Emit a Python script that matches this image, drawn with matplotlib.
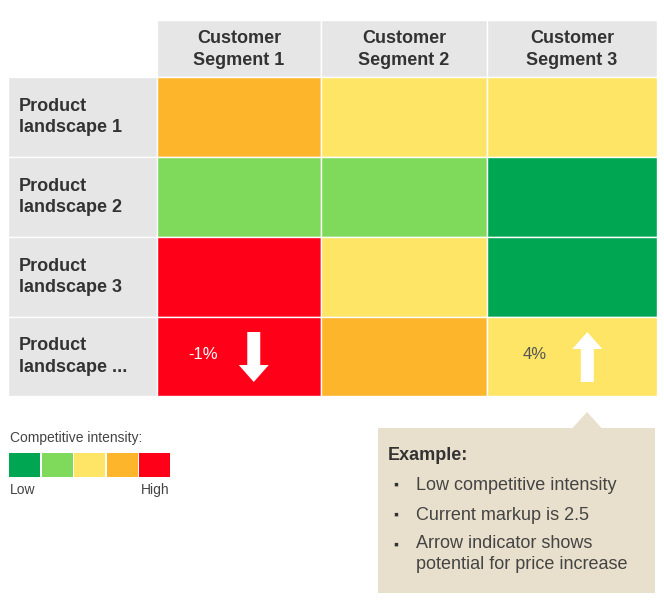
import matplotlib
matplotlib.use("Agg")
import matplotlib.pyplot as plt
from matplotlib.patches import Rectangle, Polygon

plt.rcParams['font.family'] = ['Liberation Sans', 'DejaVu Sans']

columns = ["Customer\nSegment 1", "Customer\nSegment 2", "Customer\nSegment 3"]
rows = ["Product\nlandscape 1", "Product\nlandscape 2", "Product\nlandscape 3", "Product\nlandscape ..."]
# competitive intensity level 1 (low) .. 5 (high)
intensity = [
    [4, 3, 3],
    [2, 2, 1],
    [5, 3, 1],
    [5, 4, 3],
]
level_colors = ["#00A651", "#7FD95A", "#FEE566", "#FDB62C", "#FF0019"]
# price change annotations: (row, col, text, direction)
annotations = [(3, 0, "-1%", "down"), (3, 2, "4%", "up")]
legend_title = "Competitive intensity:"
legend_low, legend_high = "Low", "High"
example_title = "Example:"
example_items = ["Low competitive intensity", "Current markup is 2.5",
                 "Arrow indicator shows\npotential for price increase"]

W, H = 664, 604
fig = plt.figure(figsize=(W / 100, H / 100), dpi=100)
ax = fig.add_axes([0, 0, 1, 1])
ax.set_xlim(0, W)
ax.set_ylim(H, 0)
ax.axis("off")

grey = "#E6E6E6"
txt = "#333333"
col_x = [157, 321, 487, 657]
row_y = [77, 157, 237, 317, 396]
head_top = 20
label_left = 8

# header
for j, name in enumerate(columns):
    ax.add_patch(Rectangle((col_x[j], head_top), col_x[j + 1] - col_x[j], row_y[0] - head_top,
                           facecolor=grey, edgecolor="white", lw=1))
    ax.text((col_x[j] + col_x[j + 1]) / 2, (head_top + row_y[0]) / 2 + 1, name, ha="center", va="center",
            fontsize=13, fontweight="bold", color=txt, linespacing=1.35)

# rows
for i, name in enumerate(rows):
    ax.add_patch(Rectangle((label_left, row_y[i]), col_x[0] - label_left, row_y[i + 1] - row_y[i],
                           facecolor=grey, edgecolor="white", lw=1))
    ax.text(label_left + 11, (row_y[i] + row_y[i + 1]) / 2, name, ha="left", va="center",
            fontsize=13, fontweight="bold", color=txt, linespacing=1.35)
    for j in range(len(columns)):
        ax.add_patch(Rectangle((col_x[j], row_y[i]), col_x[j + 1] - col_x[j], row_y[i + 1] - row_y[i],
                               facecolor=level_colors[intensity[i][j] - 1], edgecolor="white", lw=1))

# annotations with arrows
for (i, j, label, d) in annotations:
    cx0, cx1 = col_x[j], col_x[j + 1]
    cy = (row_y[i] + row_y[i + 1]) / 2
    tcol = "white" if intensity[i][j] >= 5 else "#555555"
    ax.text(cx0 + 0.28 * (cx1 - cx0), cy - 2, label, ha="center", va="center", fontsize=12, color=tcol)
    ax_x = cx0 + 0.59 * (cx1 - cx0)
    top, bot = row_y[i] + 15, row_y[i + 1] - 14
    shaft, head, headlen = 13, 30, 17
    if d == "down":
        pts = [(ax_x - shaft / 2, top), (ax_x + shaft / 2, top), (ax_x + shaft / 2, bot - headlen),
               (ax_x + head / 2, bot - headlen), (ax_x, bot), (ax_x - head / 2, bot - headlen),
               (ax_x - shaft / 2, bot - headlen)]
    else:
        pts = [(ax_x - shaft / 2, bot), (ax_x + shaft / 2, bot), (ax_x + shaft / 2, top + headlen),
               (ax_x + head / 2, top + headlen), (ax_x, top), (ax_x - head / 2, top + headlen),
               (ax_x - shaft / 2, top + headlen)]
    ax.add_patch(Polygon(pts, closed=True, facecolor="white", edgecolor="none"))

# legend
ax.text(10, 438, legend_title, ha="left", va="center", fontsize=10, color="#444444")
sw_x0, sw_w, sw_gap = 9, 31, 1.5
for k, c in enumerate(level_colors):
    ax.add_patch(Rectangle((sw_x0 + k * (sw_w + sw_gap), 453), sw_w, 24, facecolor=c, edgecolor="none"))
ax.text(10, 490, legend_low, ha="left", va="center", fontsize=10, color="#444444")
ax.text(170, 490, legend_high, ha="right", va="center", fontsize=10, color="#444444")

# callout box
beige = "#E8E0CC"
bx0, bx1, by0, by1 = 378, 655, 428, 593
ax.add_patch(Rectangle((bx0, by0), bx1 - bx0, by1 - by0, facecolor=beige, edgecolor="none"))
ax.add_patch(Polygon([(572, by0 + 0.5), (587, 412), (602, by0 + 0.5)], closed=True,
                     facecolor=beige, edgecolor="none"))
ax.text(388, 455, example_title, ha="left", va="center", fontsize=13, fontweight="bold", color=txt)
item_y = [485, 515, 545]
for y, t in zip(item_y, example_items):
    ax.text(393, y, "\u25aa", ha="left", va="center", fontsize=10, color=txt)
    if "\n" in t:
        ax.text(416, y - 10, t, ha="left", va="top", fontsize=13, color="#444444", linespacing=1.3)
    else:
        ax.text(416, y, t, ha="left", va="center", fontsize=13, color="#444444")

fig.savefig("out.png", dpi=100, facecolor="white")
